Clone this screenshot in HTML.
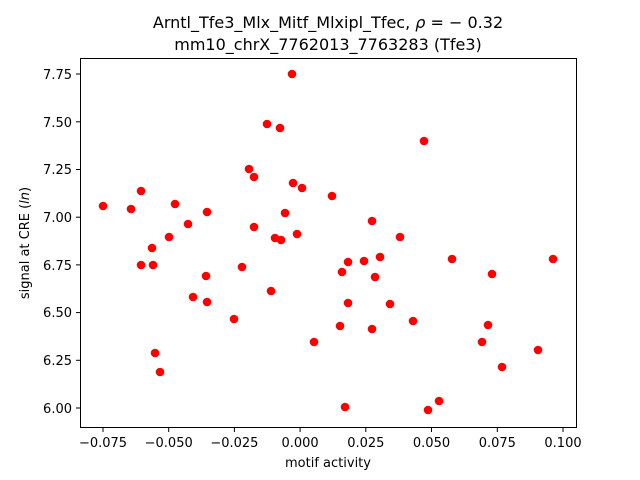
<!DOCTYPE html>
<html><head><meta charset="utf-8"><style>body{margin:0;background:#fff}svg{display:block}text{font-family:"DejaVu Sans","Liberation Sans",sans-serif;fill:#000}</style></head><body>
<svg width="640" height="480" xmlns="http://www.w3.org/2000/svg">
<text x="328" y="28" font-size="16" text-anchor="middle">Arntl_Tfe3_Mlx_Mitf_Mlxipl_Tfec, <tspan font-style="italic">ρ</tspan> = − 0.32</text>
<text x="328" y="50" font-size="16" text-anchor="middle">mm10_chrX_7762013_7763283 (Tfe3)</text>
<g fill="#ff0000">
<circle cx="103" cy="206" r="4.3"/><circle cx="131" cy="209" r="4.3"/><circle cx="141" cy="191" r="4.3"/><circle cx="141" cy="265" r="4.3"/><circle cx="152" cy="248" r="4.3"/><circle cx="153" cy="265" r="4.3"/><circle cx="155" cy="353" r="4.3"/><circle cx="160" cy="372" r="4.3"/><circle cx="169" cy="237" r="4.3"/><circle cx="175" cy="204" r="4.3"/><circle cx="188" cy="224" r="4.3"/><circle cx="193" cy="297" r="4.3"/><circle cx="206" cy="276" r="4.3"/><circle cx="207" cy="212" r="4.3"/><circle cx="207" cy="302" r="4.3"/><circle cx="234" cy="319" r="4.3"/><circle cx="242" cy="267" r="4.3"/><circle cx="249" cy="169" r="4.3"/><circle cx="254" cy="177" r="4.3"/><circle cx="254" cy="227" r="4.3"/><circle cx="267" cy="124" r="4.3"/><circle cx="271" cy="291" r="4.3"/><circle cx="275" cy="238" r="4.3"/><circle cx="280" cy="128" r="4.3"/><circle cx="281" cy="240" r="4.3"/><circle cx="285" cy="213" r="4.3"/><circle cx="292" cy="74" r="4.3"/><circle cx="293" cy="183" r="4.3"/><circle cx="297" cy="234" r="4.3"/><circle cx="302" cy="188" r="4.3"/><circle cx="314" cy="342" r="4.3"/><circle cx="332" cy="196" r="4.3"/><circle cx="340" cy="326" r="4.3"/><circle cx="342" cy="272" r="4.3"/><circle cx="345" cy="407" r="4.3"/><circle cx="348" cy="262" r="4.3"/><circle cx="348" cy="303" r="4.3"/><circle cx="364" cy="261" r="4.3"/><circle cx="372" cy="221" r="4.3"/><circle cx="372" cy="329" r="4.3"/><circle cx="375" cy="277" r="4.3"/><circle cx="380" cy="257" r="4.3"/><circle cx="390" cy="304" r="4.3"/><circle cx="400" cy="237" r="4.3"/><circle cx="413" cy="321" r="4.3"/><circle cx="424" cy="141" r="4.3"/><circle cx="428" cy="410" r="4.3"/><circle cx="439" cy="401" r="4.3"/><circle cx="452" cy="259" r="4.3"/><circle cx="482" cy="342" r="4.3"/><circle cx="488" cy="325" r="4.3"/><circle cx="492" cy="274" r="4.3"/><circle cx="502" cy="367" r="4.3"/><circle cx="538" cy="350" r="4.3"/><circle cx="553" cy="259" r="4.3"/>
</g>
<rect x="80.5" y="58.5" width="496" height="369" fill="none" stroke="#000" stroke-width="1"/>
<g stroke="#000" stroke-width="1">
<line x1="103" y1="427" x2="103" y2="432"/><line x1="168.7" y1="427" x2="168.7" y2="432"/><line x1="234.4" y1="427" x2="234.4" y2="432"/><line x1="300.1" y1="427" x2="300.1" y2="432"/><line x1="365.8" y1="427" x2="365.8" y2="432"/><line x1="431.5" y1="427" x2="431.5" y2="432"/><line x1="497.3" y1="427" x2="497.3" y2="432"/><line x1="563" y1="427" x2="563" y2="432"/>
<line x1="76" y1="408" x2="80" y2="408"/><line x1="76" y1="360.3" x2="80" y2="360.3"/><line x1="76" y1="312.6" x2="80" y2="312.6"/><line x1="76" y1="264.9" x2="80" y2="264.9"/><line x1="76" y1="217.2" x2="80" y2="217.2"/><line x1="76" y1="169.5" x2="80" y2="169.5"/><line x1="76" y1="121.8" x2="80" y2="121.8"/><line x1="76" y1="74" x2="80" y2="74"/>
</g>
<g font-size="13" text-anchor="middle">
<text x="103" y="447">−0.075</text><text x="168.7" y="447">−0.050</text><text x="234.4" y="447">−0.025</text><text x="300.1" y="447">0.000</text><text x="365.8" y="447">0.025</text><text x="431.5" y="447">0.050</text><text x="497.3" y="447">0.075</text><text x="563" y="447">0.100</text>
<text x="328" y="467">motif activity</text>
</g>
<g font-size="13" text-anchor="end">
<text x="72" y="413">6.00</text><text x="72" y="365">6.25</text><text x="72" y="317">6.50</text><text x="72" y="270">6.75</text><text x="72" y="222">7.00</text><text x="72" y="174">7.25</text><text x="72" y="127">7.50</text><text x="72" y="79">7.75</text>
</g>
<text transform="translate(29,243) rotate(-90)" font-size="13" text-anchor="middle">signal at CRE (<tspan font-style="italic">ln</tspan>)</text>
</svg>
</body></html>
